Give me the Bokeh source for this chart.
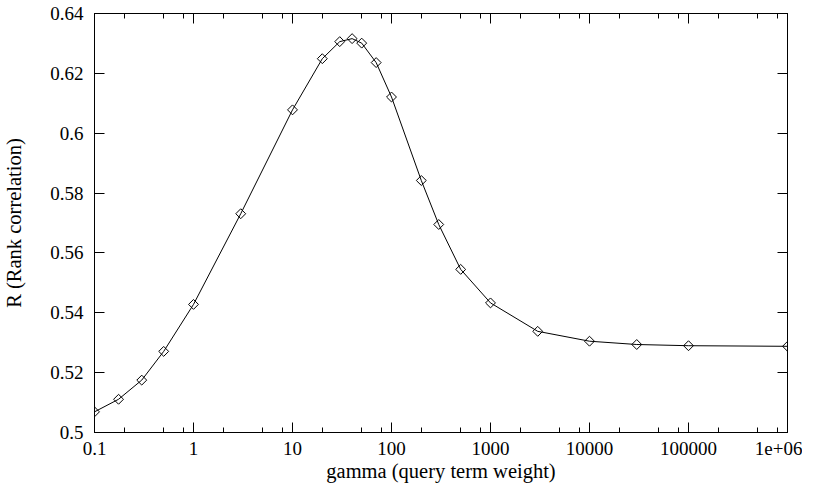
import math
from bokeh.plotting import figure
from bokeh.models import FixedTicker, LinearAxis, LogAxis, Range1d
from bokeh.embed import file_html
from bokeh.resources import INLINE

# data
gamma = [0.1, 0.175, 0.3, 0.5, 1, 3, 10, 20, 30, 40, 50, 70, 100, 200, 300, 500,
         1000, 3000, 10000, 30000, 100000, 1000000]
rank_r = [0.5069, 0.5111, 0.5175, 0.5271, 0.5428, 0.5731, 0.6078, 0.6249, 0.6306,
          0.6316, 0.6301, 0.6236, 0.6121, 0.5842, 0.5695, 0.5545, 0.5433, 0.5338,
          0.5305, 0.5294, 0.5290, 0.5288]

x_ticks = [0.1, 1, 10, 100, 1000, 10000, 100000, 1000000]
x_tick_labels = ["0.1", "1", "10", "100", "1000", "10000", "100000", "1e+06"]
x_minor = [0.2, 0.5, 0.8, 2, 5, 8, 20, 50, 80, 200, 500, 800, 2000, 5000, 8000,
           20000, 50000, 80000, 200000, 500000, 800000]
y_ticks = [0.5, 0.52, 0.54, 0.56, 0.58, 0.6, 0.62, 0.64]
y_tick_labels = ["0.5", "0.52", "0.54", "0.56", "0.58", "0.6", "0.62", "0.64"]

FONT = "'Liberation Serif', 'Times New Roman', Times, serif"
FS = "19px"

p = figure(width=802, height=490, x_axis_type="log",
           x_range=Range1d(0.1, 1e6), y_range=Range1d(0.5, 0.64),
           output_backend="svg", toolbar_location=None,
           min_border_left=93, min_border_right=15, min_border_top=13,
           min_border_bottom=58)
p.grid.visible = False
p.outline_line_color = "black"
p.background_fill_color = "white"
p.border_fill_color = "white"

xt = FixedTicker(ticks=x_ticks, minor_ticks=x_minor)
yt = FixedTicker(ticks=y_ticks)

def style(ax, show, label_size=FS):
    ax.axis_line_color = "black"
    ax.major_tick_line_color = "black"
    ax.minor_tick_line_color = "black"
    ax.major_tick_in = 10
    ax.major_tick_out = 0
    ax.minor_tick_in = 5
    ax.minor_tick_out = 0
    if show:
        ax.major_label_text_font = FONT
        ax.major_label_text_font_size = FS
        ax.major_label_text_color = "black"
        ax.axis_label_text_font = FONT
        ax.axis_label_text_font_size = label_size
        ax.axis_label_text_font_style = "normal"
        ax.axis_label_text_color = "black"
    else:
        ax.major_label_text_font_size = "1px"
        ax.major_label_text_alpha = 0
        ax.major_label_standoff = 0

xa = p.xaxis[0]
xa.ticker = xt
xa.major_label_overrides = dict(zip(x_ticks, x_tick_labels))
xa.axis_label = "gamma (query term weight)"
style(xa, True, "20.5px")
xa.major_label_standoff = 9
xa.axis_label_standoff = 2

ya = p.yaxis[0]
ya.ticker = yt
ya.major_label_overrides = dict(zip(y_ticks, y_tick_labels))
ya.axis_label = "R (Rank correlation)"
style(ya, True, "20.5px")
ya.major_label_standoff = 11
ya.axis_label_standoff = 22

top = LogAxis(ticker=xt)
style(top, False)
p.add_layout(top, "above")
right = LinearAxis(ticker=yt)
style(right, False)
p.add_layout(right, "right")

p.line(gamma, rank_r, line_color="black", line_width=1)
p.scatter(gamma, rank_r, marker="square", angle=math.pi / 4, size=7,
          fill_color=None, line_color="black", line_width=1)

open("out.html", "w").write(file_html(p, INLINE))
